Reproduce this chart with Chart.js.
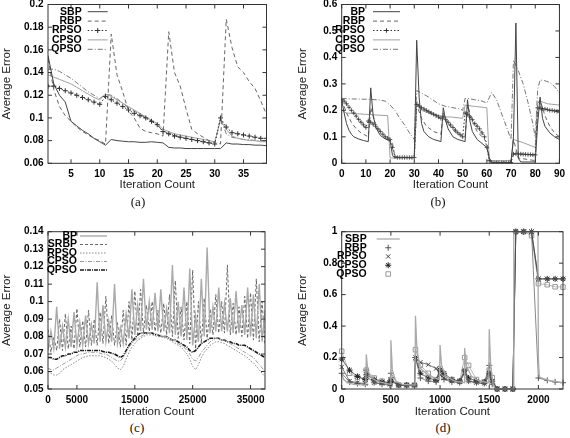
<!DOCTYPE html>
<html>
<head>
<meta charset="utf-8">
<script src="https://cdn.jsdelivr.net/npm/chart.js@4.4.1/dist/chart.umd.min.js"></script>
<style>
  html, body { margin: 0; padding: 0; background: #fff; }
  body { width: 570px; height: 438px; position: relative; overflow: hidden; }
  canvas { position: absolute; }
  .cap { position: absolute; font: 13px "Liberation Serif", "DejaVu Serif", serif; color: #111; transform: translate(-50%, -50%); }
</style>
</head>
<body>
<canvas id="chartA" width="285" height="206" style="left:0;top:-6px"></canvas>
<canvas id="chartB" width="285" height="206" style="left:285px;top:-6px"></canvas>
<canvas id="chartC" width="285" height="206" style="left:0;top:214px"></canvas>
<canvas id="chartD" width="285" height="206" style="left:285px;top:214px"></canvas>
<div class="cap" style="left:138px;top:202px">(a)</div>
<div class="cap" style="left:438px;top:202px">(b)</div>
<div class="cap" style="left:137px;top:428px">(c)</div>
<div class="cap" style="left:443px;top:428px">(d)</div>
<script>
// ---- panel (a) ----
var aX = [1,2,3,4,5,6,7,8,9,10,11,12,13,14,15,16,17,18,19,20,21,22,23,24,25,26,27,28,29,30,31,32,33,34,35,36,37,38,39];
var aSBP = [0.155,0.13,0.12,0.114,0.097,0.093,0.089,0.086,0.082,0.079,0.076,0.081,0.080,0.0795,0.079,0.079,0.0785,0.0785,0.079,0.0785,0.078,0.074,0.0735,0.0735,0.073,0.073,0.073,0.073,0.073,0.073,0.073,0.078,0.077,0.077,0.0765,0.0765,0.076,0.076,0.0755];
var aRBP = [0.152,0.125,0.11,0.102,0.097,0.092,0.088,0.085,0.082,0.080,0.077,0.174,0.138,0.123,0.106,0.1,0.091,0.088,0.087,0.086,0.084,0.176,0.14,0.128,0.108,0.09,0.086,0.083,0.08,0.078,0.077,0.187,0.162,0.145,0.14,0.132,0.126,0.115,0.103];
var aRPSO = [0.128,0.128,0.126,0.124,0.122,0.12,0.118,0.116,0.114,0.112,0.119,0.116,0.113,0.11,0.107,0.104,0.102,0.1,0.097,0.094,0.088,0.086,0.084,0.083,0.082,0.081,0.08,0.079,0.078,0.077,0.1,0.092,0.087,0.086,0.085,0.084,0.083,0.082,0.082];
var aCPSO = [0.138,0.136,0.134,0.132,0.13,0.127,0.124,0.121,0.118,0.116,0.121,0.119,0.116,0.113,0.11,0.107,0.104,0.101,0.098,0.095,0.09,0.088,0.086,0.085,0.084,0.083,0.082,0.081,0.08,0.079,0.098,0.09,0.084,0.082,0.081,0.08,0.08,0.079,0.079];
var aQPSO = [0.143,0.143,0.141,0.138,0.135,0.131,0.127,0.123,0.12,0.117,0.121,0.12,0.117,0.113,0.109,0.106,0.103,0.1,0.097,0.094,0.088,0.086,0.085,0.083,0.082,0.081,0.08,0.079,0.078,0.077,0.1,0.086,0.083,0.082,0.081,0.081,0.08,0.08,0.08];
var aXTicks = [5,10,15,20,25,30,35];
var aYTicks = [0.06,0.08,0.1,0.12,0.14,0.16,0.18,0.2];

// ---- panel (b) ----
var bBPx = [0,1,2,3,4,5,7,9,11,12,13,14,15,16,18,20,21,22,30,31,32,33,34,36,38,41,42,43,44,46,48,51,52,53,54,56,58,60,61,62,70,71,72,73,74,80,81,82,83,84,86,88,90];
var bBPy = [0.24,0.19,0.15,0.125,0.11,0.1,0.092,0.086,0.082,0.285,0.18,0.14,0.12,0.105,0.092,0.085,0.03,0.022,0.022,0.465,0.25,0.15,0.12,0.1,0.09,0.082,0.21,0.16,0.13,0.1,0.09,0.082,0.24,0.16,0.12,0.09,0.075,0.06,0.02,0.002,0.002,0.1,0.53,0.02,0.005,0.005,0.15,0.25,0.17,0.14,0.115,0.1,0.09];
var bRBPx = [0,2,4,6,8,11,12,14,16,18,20,21,22,30,31,33,35,38,41,42,44,46,48,51,52,54,56,58,60,61,62,70,71,73,80,81,82,84,86,88,90];
var bRBPy = [0.24,0.19,0.155,0.13,0.115,0.1,0.21,0.15,0.12,0.1,0.09,0.075,0.025,0.02,0.22,0.17,0.14,0.12,0.11,0.19,0.15,0.125,0.11,0.1,0.22,0.16,0.12,0.1,0.08,0.02,0.005,0.005,0.09,0.02,0.01,0.22,0.24,0.18,0.14,0.115,0.1];
var bRPSOx = [0,1,2,3,4,5,6,7,8,9,10,11,12,13,14,15,16,17,18,19,20,21,22,23,24,25,26,27,28,29,30,31,32,33,34,35,36,37,38,39,40,41,42,43,44,45,46,47,48,49,50,51,52,53,54,55,56,57,58,59,60,61,62,63,64,65,66,67,68,69,70,71,72,73,74,75,76,77,78,79,80,81,82,83,84,85,86,87,88,89,90];
var bRPSOy = [0.24,0.235,0.225,0.212,0.2,0.19,0.178,0.166,0.155,0.145,0.135,
  0.16,0.155,0.148,0.14,0.13,0.12,0.11,0.1,0.095,0.09,
  0.06,0.025,0.022,0.022,0.022,0.022,0.022,0.022,0.022,0.022,
  0.222,0.216,0.21,0.205,0.2,0.195,0.19,0.185,0.18,0.175,0.17,
  0.175,0.165,0.155,0.145,0.135,0.125,0.115,0.108,0.1,
  0.19,0.185,0.175,0.165,0.15,0.14,0.13,0.115,0.1,0.06,
  0.01,0.004,0.002,0.002,0.002,0.002,0.002,0.002,0.002,0.003,
  0.035,0.036,0.035,0.035,0.034,0.034,0.033,0.033,0.032,0.032,
  0.21,0.208,0.206,0.205,0.203,0.2,0.2,0.198,0.196,0.193];
var bCPSOx = [0,2,5,10,15,19,20,30,31,33,36,41,42,45,50,51,55,60,61,70,71,75,80,81,82,85,90];
var bCPSOy = [0.2,0.19,0.188,0.185,0.182,0.18,0.02,0.02,0.235,0.2,0.19,0.18,0.175,0.175,0.17,0.22,0.215,0.21,0.01,0.01,0.09,0.078,0.06,0.23,0.235,0.225,0.22];
var bQPSOx = [0,5,10,15,18,20,22,24,26,28,30,31,33,36,40,43,46,49,50,51,52,55,58,60,62,64,66,68,70,71,73,75,77,79,80,81,82,84,86,88,90];
var bQPSOy = [0.245,0.243,0.242,0.24,0.235,0.22,0.2,0.17,0.145,0.115,0.09,0.275,0.265,0.25,0.225,0.215,0.21,0.205,0.2,0.245,0.245,0.24,0.235,0.228,0.268,0.24,0.19,0.14,0.09,0.39,0.35,0.3,0.23,0.15,0.1,0.28,0.315,0.312,0.305,0.29,0.265];
var bXTicks = [0,10,20,30,40,50,60,70,80,90];
var bYTicks = [0,0.1,0.2,0.3,0.4,0.5,0.6];

// ---- panel (c) ----
var cX = [0,500,1000,1500,2000,2500,3000,3500,4000,4500,5000,5500,6000,6500,7000,7500,8000,8500,9000,9500,10000,10500,11000,11500,12000,12500,13000,13500,14000,14500,15000,15500,16000,16500,17000,17500,18000,18500,19000,19500,20000,20500,21000,21500,22000,22500,23000,23500,24000,24500,25000,25500,26000,26500,27000,27500,28000,28500,29000,29500,30000,30500,31000,31500,32000,32500,33000,33500,34000,34500,35000,35500,36000,36500,37000,37500];
var cBP = [0.072,0.083,0.073,0.097,0.073,0.086,0.074,0.09,0.074,0.094,0.075,0.088,0.075,0.092,0.076,0.087,0.076,0.111,0.077,0.098,0.077,0.089,0.077,0.11,0.076,0.085,0.076,0.093,0.079,0.107,0.081,0.098,0.083,0.113,0.084,0.1,0.084,0.105,0.083,0.107,0.083,0.096,0.082,0.121,0.081,0.1,0.08,0.108,0.078,0.119,0.075,0.092,0.077,0.113,0.08,0.131,0.082,0.097,0.083,0.108,0.083,0.099,0.083,0.102,0.082,0.106,0.082,0.098,0.081,0.108,0.08,0.104,0.079,0.11,0.077,0.095];
var cSRBP = [0.084,0.071,0.08,0.072,0.09,0.072,0.093,0.073,0.086,0.073,0.096,0.074,0.089,0.074,0.095,0.075,0.09,0.075,0.094,0.076,0.103,0.076,0.092,0.075,0.088,0.074,0.095,0.075,0.1,0.078,0.106,0.08,0.107,0.082,0.098,0.083,0.1,0.083,0.095,0.082,0.099,0.081,0.104,0.08,0.112,0.079,0.097,0.078,0.1,0.076,0.118,0.073,0.1,0.076,0.102,0.079,0.096,0.081,0.104,0.082,0.1,0.082,0.121,0.081,0.099,0.081,0.097,0.08,0.103,0.079,0.105,0.078,0.113,0.077,0.1,0.075];
var cRPSO = [0.06,0.059,0.058,0.058,0.059,0.061,0.062,0.063,0.064,0.065,0.066,0.067,0.068,0.0685,0.069,0.069,0.069,0.069,0.069,0.0685,0.068,0.067,0.066,0.064,0.062,0.061,0.063,0.067,0.071,0.074,0.076,0.078,0.079,0.08,0.081,0.081,0.081,0.0805,0.08,0.08,0.0795,0.079,0.078,0.077,0.076,0.075,0.074,0.072,0.07,0.067,0.063,0.061,0.064,0.068,0.071,0.073,0.075,0.076,0.077,0.077,0.0765,0.076,0.075,0.074,0.073,0.072,0.071,0.07,0.069,0.068,0.066,0.065,0.063,0.061,0.059,0.057];
var cCPSO = [0.062,0.061,0.061,0.062,0.063,0.064,0.065,0.066,0.067,0.068,0.069,0.07,0.07,0.0705,0.071,0.071,0.071,0.071,0.0705,0.07,0.07,0.069,0.068,0.067,0.066,0.066,0.068,0.071,0.074,0.076,0.078,0.079,0.08,0.081,0.082,0.082,0.082,0.082,0.081,0.081,0.08,0.08,0.079,0.078,0.077,0.076,0.075,0.074,0.072,0.07,0.067,0.066,0.068,0.071,0.073,0.075,0.077,0.078,0.079,0.079,0.078,0.078,0.077,0.076,0.075,0.074,0.073,0.072,0.071,0.07,0.069,0.068,0.066,0.064,0.062,0.06];
var cQPSO = [0.068,0.068,0.067,0.067,0.068,0.069,0.069,0.07,0.07,0.071,0.071,0.072,0.072,0.072,0.072,0.072,0.072,0.072,0.072,0.0715,0.071,0.071,0.0705,0.07,0.069,0.068,0.069,0.072,0.075,0.077,0.079,0.081,0.082,0.082,0.082,0.082,0.082,0.081,0.081,0.08,0.08,0.08,0.079,0.078,0.078,0.077,0.076,0.075,0.074,0.072,0.071,0.072,0.074,0.076,0.077,0.078,0.079,0.079,0.079,0.079,0.078,0.078,0.077,0.077,0.076,0.076,0.075,0.075,0.075,0.074,0.073,0.072,0.071,0.07,0.069,0.068];
var cXTicks = [0,5000,15000,25000,35000];
var cYTicks = [0.05,0.06,0.07,0.08,0.09,0.1,0.11,0.12,0.13,0.14];

// ---- panel (d) ----
var dSBPx = [0,20,60,120,245,250,265,300,380,495,500,515,550,620,745,750,765,800,900,995,1000,1015,1060,1150,1245,1250,1265,1320,1400,1495,1500,1515,1540,1560,1745,1750,1995,2000,2010,2100,2250];
var dSBPy = [0.1,0.06,0.04,0.03,0.025,0.22,0.12,0.07,0.045,0.03,0.31,0.12,0.05,0.03,0.025,0.465,0.25,0.13,0.08,0.06,0.28,0.15,0.08,0.05,0.04,0.26,0.15,0.08,0.05,0.04,0.38,0.15,0.03,0,0,1,1,0.19,0.075,0.055,0.04];
var dX = [0,80,160,240,250,330,410,490,500,580,660,740,750,800,880,960,1000,1040,1120,1200,1250,1290,1370,1450,1500,1530,1580,1660,1740,1770,1850,1930,2000,2090,2170,2250];
var dRBP = [0.1,0.045,0.035,0.03,0.12,0.04,0.03,0.025,0.1,0.025,0.022,0.02,0.2,0.07,0.05,0.045,0.12,0.06,0.045,0.04,0.12,0.05,0.04,0.035,0.15,0.03,0,0,0,1,1,1,0.07,0.055,0.045,0.04];
var dRPSO = [0.14,0.05,0.04,0.035,0.08,0.04,0.035,0.03,0.06,0.025,0.025,0.025,0.19,0.17,0.155,0.13,0.09,0.07,0.05,0.045,0.1,0.05,0.04,0.035,0.08,0.05,0,0,0,1,1,1,0.7,0.7,0.7,0.7];
var dCPSO = [0.19,0.12,0.08,0.06,0.09,0.06,0.045,0.04,0.05,0.025,0.025,0.025,0.2,0.1,0.07,0.055,0.12,0.1,0.06,0.05,0.12,0.07,0.05,0.045,0.1,0.05,0,0,0,1,1,1,0.7,0.7,0.7,0.7];
var dQPSO = [0.24,0.1,0.075,0.06,0.12,0.07,0.05,0.04,0.06,0.025,0.025,0.025,0.25,0.15,0.1,0.06,0.13,0.08,0.06,0.05,0.2,0.15,0.06,0.045,0.12,0.072,0,0,0,1,1,0.975,0.67,0.663,0.65,0.648];
var dXTicks = [0,500,1000,1500,2000];
var dYTicks = [0,0.2,0.4,0.6,0.8,1];

var FAMILY = '"Liberation Sans", Arial, Helvetica, sans-serif';
Chart.defaults.font.family = FAMILY;

function pts(xs, ys) {
    return xs.map(function (x, i) { return { x: x, y: ys[i] }; });
}

function line(label, xs, ys, color, dash, width, extra) {
    return Object.assign({
        label: label,
        data: pts(xs, ys),
        borderColor: color,
        backgroundColor: color,
        borderDash: dash,
        borderWidth: width,
        pointRadius: 0,
        tension: 0,
        fill: false
    }, extra || {});
}

function fmt(v) {
    return String(Math.round(v * 1000) / 1000);
}

// gnuplot style key: label right aligned, sample to the right
var gnuLegend = {
    id: 'gnuLegend',
    afterDatasetsDraw: function (chart, args, o) {
        var ctx = chart.ctx;
        ctx.save();
        ctx.font = 'bold 10.5px ' + FAMILY;
        ctx.textAlign = 'right';
        ctx.textBaseline = 'middle';
        chart.data.datasets.forEach(function (ds, i) {
            var y = o.y + i * o.rowH;
            ctx.fillStyle = '#000';
            ctx.fillText(ds.label, o.x, y);
            if (ds.legendLine !== false) {
                ctx.strokeStyle = ds.borderColor;
                ctx.lineWidth = ds.borderWidth;
                ctx.setLineDash(ds.borderDash || []);
                ctx.beginPath();
                ctx.moveTo(o.x + o.gap, y);
                ctx.lineTo(o.x + o.gap + o.w, y);
                ctx.stroke();
                ctx.setLineDash([]);
            }
            if (ds.pointRadius > 0) {
                ctx.strokeStyle = ds.pointBorderColor || ds.borderColor;
                ctx.fillStyle = ds.pointBackgroundColor || 'rgba(0,0,0,0)';
                ctx.lineWidth = 1;
                Chart.helpers.drawPoint(ctx, { pointStyle: ds.pointStyle, radius: ds.pointRadius, borderWidth: 1, rotation: 0 }, o.x + o.gap + o.w / 2, y);
            }
        });
        ctx.restore();
    }
};

// box frame with inward tick marks on all four sides
var gnuFrame = {
    id: 'gnuFrame',
    afterDatasetsDraw: function (chart) {
        var ctx = chart.ctx, a = chart.chartArea, sx = chart.scales.x, sy = chart.scales.y;
        ctx.save();
        ctx.strokeStyle = '#333';
        ctx.lineWidth = 1;
        ctx.strokeRect(a.left, a.top, a.right - a.left, a.bottom - a.top);
        ctx.beginPath();
        sx.ticks.forEach(function (t) {
            var px = sx.getPixelForValue(t.value);
            ctx.moveTo(px, a.bottom); ctx.lineTo(px, a.bottom - 4);
            ctx.moveTo(px, a.top); ctx.lineTo(px, a.top + 4);
        });
        sy.ticks.forEach(function (t) {
            var py = sy.getPixelForValue(t.value);
            ctx.moveTo(a.left, py); ctx.lineTo(a.left + 4, py);
            ctx.moveTo(a.right, py); ctx.lineTo(a.right - 4, py);
        });
        ctx.stroke();
        ctx.restore();
    }
};

function makeChart(id, p, datasets) {
    var tickFont = { size: 10, weight: 'bold', family: FAMILY };
    var titleFont = { size: 11.5, family: FAMILY };
    return new Chart(document.getElementById(id), {
        type: 'line',
        data: { datasets: datasets },
        plugins: [gnuFrame, gnuLegend],
        options: {
            responsive: false,
            animation: false,
            events: [],
            layout: { padding: { left: 0, top: p.padTop, right: p.padRight, bottom: p.padBottom } },
            plugins: {
                legend: { display: false },
                tooltip: { enabled: false },
                gnuLegend: p.legend
            },
            scales: {
                x: {
                    type: 'linear',
                    min: p.xMin,
                    max: p.xMax,
                    grid: { display: false, drawTicks: false },
                    border: { display: false },
                    afterBuildTicks: function (s) { s.ticks = p.xTicks.map(function (v) { return { value: v }; }); },
                    afterFit: function (s) { s.height = p.xAxisH; },
                    ticks: { padding: 5, autoSkip: false, maxRotation: 0, color: '#000', font: tickFont, callback: fmt },
                    title: { display: true, text: 'Iteration Count', padding: 0, color: '#222', font: titleFont }
                },
                y: {
                    type: 'linear',
                    min: p.yMin,
                    max: p.yMax,
                    grid: { display: false, drawTicks: false },
                    border: { display: false },
                    afterBuildTicks: function (s) { s.ticks = p.yTicks.map(function (v) { return { value: v }; }); },
                    afterFit: function (s) { s.width = p.yAxisW; },
                    ticks: { padding: 4.5, autoSkip: false, color: '#000', font: tickFont, callback: fmt },
                    title: { display: true, text: 'Average Error', padding: { top: p.yTitlePad, bottom: 0 }, color: '#222', font: titleFont }
                }
            }
        }
    });
}

// (a)
makeChart('chartA', {
    padTop: 9.3, padRight: 18.5, padBottom: 8.1, xAxisH: 28.6, yAxisW: 48, yTitlePad: 0,
    xMin: 1, xMax: 39, yMin: 0.06, yMax: 0.2, xTicks: aXTicks, yTicks: aYTicks,
    legend: { x: 81.7, y: 17.7, rowH: 9.4, gap: 6, w: 20 }
}, [
    line('SBP', aX, aSBP, '#444', [], 1),
    line('RBP', aX, aRBP, '#666', [4, 3], 1),
    line('RPSO', aX, aRPSO, '#333', [1.5, 2], 1, { pointRadius: 2.5, pointStyle: 'cross', pointBorderWidth: 1 }),
    line('CPSO', aX, aCPSO, '#a0a0a0', [], 1),
    line('QPSO', aX, aQPSO, '#777', [5, 2, 1, 2], 1)
]);

// (b)
makeChart('chartB', {
    padTop: 9.3, padRight: 6.7, padBottom: 8.1, xAxisH: 28.6, yAxisW: 56.7, yTitlePad: 11,
    xMin: 0, xMax: 90, yMin: 0, yMax: 0.6, xTicks: bXTicks, yTicks: bYTicks,
    legend: { x: 80, y: 17.7, rowH: 9.4, gap: 8, w: 27 }
}, [
    line('BP', bBPx, bBPy, '#444', [], 1),
    line('RBP', bRBPx, bRBPy, '#666', [4, 3], 1),
    line('RPSO', bRPSOx, bRPSOy, '#333', [1.5, 2], 1, { pointRadius: 2.2, pointStyle: 'cross', pointBorderWidth: 0.8 }),
    line('CPSO', bCPSOx, bCPSOy, '#a0a0a0', [], 1),
    line('QPSO', bQPSOx, bQPSOy, '#777', [5, 2, 1, 2], 1)
]);

// (c)
makeChart('chartC', {
    padTop: 17.7, padRight: 20, padBottom: 1.4, xAxisH: 29.6, yAxisW: 48, yTitlePad: 0,
    xMin: 0, xMax: 37500, yMin: 0.05, yMax: 0.14, xTicks: cXTicks, yTicks: cYTicks,
    legend: { x: 77, y: 22, rowH: 8.5, gap: 3, w: 27 }
}, [
    line('BP', cX, cBP, '#aaaaaa', [], 1.4),
    line('SRBP', cX, cSRBP, '#666', [3, 2], 1),
    line('RPSO', cX, cRPSO, '#888', [1.5, 1.5], 1),
    line('CPSO', cX, cCPSO, '#999', [4, 1.5, 1, 1.5], 1),
    line('QPSO', cX, cQPSO, '#1a1a1a', [4, 1, 1, 1], 1.6)
]);

// (d)
var markerOpts = function (style, color, r) {
    return { pointRadius: r, pointStyle: style, pointBorderColor: color, pointBackgroundColor: 'rgba(0,0,0,0)', pointBorderWidth: 1, legendLine: false, clip: false };
};
makeChart('chartD', {
    padTop: 17.7, padRight: 7, padBottom: 1.4, xAxisH: 29.6, yAxisW: 56.7, yTitlePad: 11,
    xMin: 0, xMax: 2250, yMin: 0, yMax: 1, xTicks: dXTicks, yTicks: dYTicks,
    legend: { x: 81.7, y: 25, rowH: 8.75, gap: 10, w: 23 }
}, [
    line('SBP', dSBPx, dSBPy, '#aaaaaa', [], 1.3, { clip: false }),
    line('RBP', dX, dRBP, '#555', [], 0.7, markerOpts('cross', '#555', 3)),
    line('RPSO', dX, dRPSO, '#444', [], 0.7, markerOpts('crossRot', '#444', 3)),
    line('CPSO', dX, dCPSO, '#222', [], 0.7, markerOpts('star', '#222', 3)),
    line('QPSO', dX, dQPSO, '#999', [], 0.7, markerOpts('rect', '#999', 3.2))
]);
</script>
</body>
</html>
